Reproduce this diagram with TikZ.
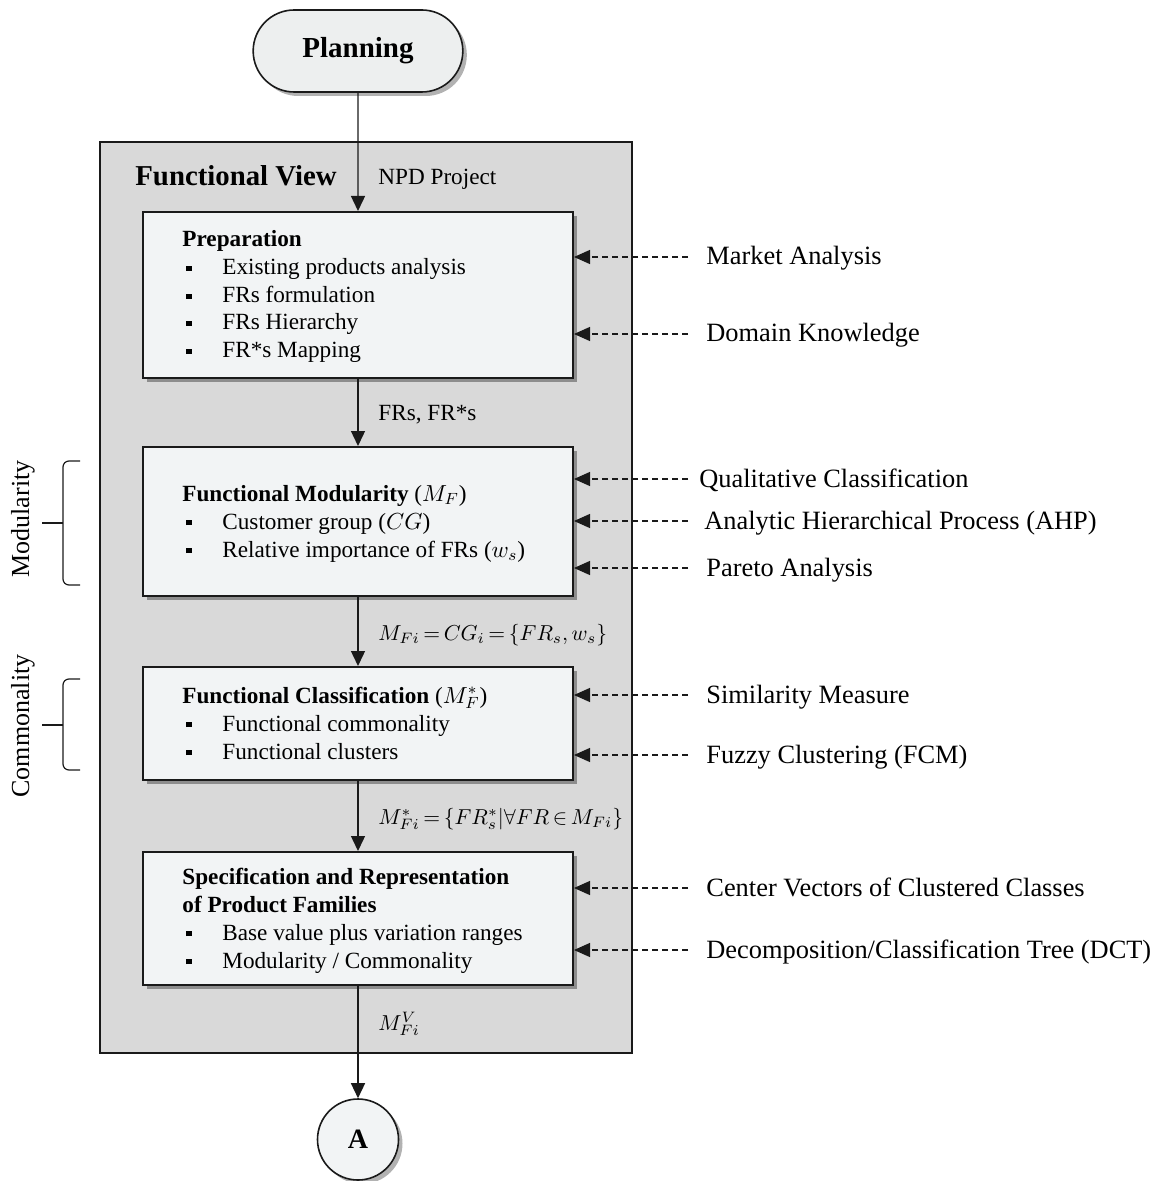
\RequirePackage{fix-cm}
\documentclass[tikz,border=0pt]{standalone}
\usepackage{fontspec}
\setmainfont{Liberation Serif}
\usetikzlibrary{arrows.meta,shapes.misc,shadows}

\definecolor{outerfill}{HTML}{D9D9D9}
\definecolor{boxfill}{HTML}{F2F4F5}
\definecolor{pillfill}{HTML}{EDEFEF}
\definecolor{linecol}{HTML}{1A1A1A}

\newcommand{\blt}{\makebox[18pt][l]{\rule[2pt]{2.6pt}{2.6pt}}}
\newcommand{\tightmath}{\thickmuskip=3mu plus 2mu\medmuskip=2mu plus 1mu}

\tikzset{
  outerbox/.style={draw=linecol, line width=0.8pt, fill=outerfill, minimum width=266pt, minimum height=455.5pt, inner sep=0pt},
  stagebox/.style={draw=linecol, line width=1pt, fill=boxfill, minimum width=215pt, inner sep=0pt,
    drop shadow={shadow xshift=2.2pt, shadow yshift=-2.2pt, fill=black, opacity=0.35}},
  pill/.style={rounded rectangle, draw=linecol, line width=0.8pt, fill=pillfill, minimum width=111.5pt, minimum height=41pt,
    font=\fontsize{14.5}{17}\selectfont\bfseries,
    drop shadow={shadow xshift=2pt, shadow yshift=-2pt, fill=black, opacity=0.3}},
  endcircle/.style={circle, draw=linecol, line width=0.8pt, fill=boxfill, minimum size=40.5pt, inner sep=0pt,
    font=\fontsize{14}{17}\selectfont\bfseries,
    drop shadow={shadow xshift=2pt, shadow yshift=-2pt, fill=black, opacity=0.3}},
  boxtxt/.style={anchor=base west, inner sep=0pt, font=\fontsize{11.6}{14}\selectfont},
  mathlab/.style={anchor=base west, inner sep=0pt, font=\fontsize{10.8}{13}\selectfont\tightmath},
  rlab/.style={anchor=west, inner sep=0pt, text height=11pt, text depth=3pt, font=\fontsize{13.2}{16}\selectfont},
  sidelab/.style={rotate=90, inner sep=0pt, font=\fontsize{13}{16}\selectfont},
  fvtitle/.style={anchor=base west, inner sep=0pt, font=\fontsize{14.4}{17}\selectfont\bfseries},
  mainarr/.style={draw=linecol, line width=0.7pt, -{Triangle[width=7pt,length=7.5pt]}},
  dasharr/.style={draw=linecol, line width=0.6pt, dash pattern=on 3pt off 2pt, -{Triangle[width=7pt,length=8pt]}},
  bracepath/.style={draw=linecol, line width=0.6pt, rounded corners=3pt},
}

\begin{document}
\begin{tikzpicture}[x=0.5pt,y=-0.5pt]
\useasboundingbox (0,0) rectangle (1156,1181);

% outer functional view box
\node[outerbox] (fv) at (366,597.5) {};
\node[fvtitle] (fvt) at (135,186) {Functional View};

% main nodes
\node[pill] (plan) at (358,51) {Planning};
\node[stagebox, minimum height=83pt] (prep) at (358,295) {};
\node[stagebox, minimum height=74.5pt] (mod) at (358,521.5) {};
\node[stagebox, minimum height=56.5pt] (cls) at (358,723.5) {};
\node[stagebox, minimum height=66.5pt] (spec) at (358,918.5) {};
\node[endcircle] (A) at (358,1139.5) {A};

% texts in boxes
\node[boxtxt] (prep0) at (182,247) {\textbf{Preparation}};
\node[boxtxt] (prep1) at (186,275) {\blt Existing products analysis};
\node[boxtxt] (prep2) at (186,303) {\blt FRs formulation};
\node[boxtxt] (prep3) at (186,330) {\blt FRs Hierarchy};
\node[boxtxt] (prep4) at (186,358) {\blt FR*s Mapping};

\node[boxtxt] (mod0) at (182,501) {\textbf{Functional Modularity} ($M_F$)};
\node[boxtxt] (mod1) at (186,529) {\blt Customer group ($CG$)};
\node[boxtxt] (mod2) at (186,557) {\blt Relative importance of FRs ($w_s$)};

\node[boxtxt] (cls0) at (182,703) {\textbf{Functional Classification} ($M_F^{*}$)};
\node[boxtxt] (cls1) at (186,731) {\blt Functional commonality};
\node[boxtxt] (cls2) at (186,759) {\blt Functional clusters};

\node[boxtxt] (spec0) at (182,884) {\textbf{Specification and Representation}};
\node[boxtxt] (spec1) at (182,912) {\textbf{of Product Families}};
\node[boxtxt] (spec2) at (186,940) {\blt Base value plus variation ranges};
\node[boxtxt] (spec3) at (186,968) {\blt Modularity / Commonality};

% main arrows
\draw[mainarr] (plan) -- (prep);
\draw[mainarr] (prep) -- (mod);
\draw[mainarr] (mod) -- (cls);
\draw[mainarr] (cls) -- (spec);
\draw[mainarr] (spec) -- (A);

% arrow labels
\node[boxtxt] (lnpd) at (378,185) {NPD Project};
\node[boxtxt] (lfr) at (378,421) {FRs, FR*s};
\node[mathlab] (lmf) at (378,640) {$M_{Fi} = CG_i = \{FR_s, w_s\}$};
\node[mathlab] (lms) at (378,824) {$M^{*}_{Fi} = \{FR^{*}_{s}|\forall FR \in M_{Fi}\}$};
\node[mathlab] (lmv) at (378,1030) {$M^{V}_{Fi}$};

% right-side inputs
\node[rlab] (ma) at (706,257) {Market Analysis};
\node[rlab] (dk) at (706,334) {Domain Knowledge};
\node[rlab] (qc) at (699,479) {Qualitative Classification};
\node[rlab] (ahp) at (704,521) {Analytic Hierarchical Process (AHP)};
\node[rlab] (pa) at (706,568) {Pareto Analysis};
\node[rlab] (sm) at (706,695) {Similarity Measure};
\node[rlab] (fcm) at (706,755) {Fuzzy Clustering (FCM)};
\node[rlab] (cv) at (706,888) {Center Vectors of Clustered Classes};
\node[rlab] (dct) at (706,950) {Decomposition/Classification Tree (DCT)};

\coordinate (mas) at (688,257);
\coordinate (dks) at (688,334);
\coordinate (qcs) at (688,479);
\coordinate (ahps) at (688,521);
\coordinate (pas) at (688,568);
\coordinate (sms) at (688,695);
\coordinate (fcms) at (688,755);
\coordinate (cvs) at (688,888);
\coordinate (dcts) at (688,950);

\draw[dasharr] (mas) -- (mas -| prep.east);
\draw[dasharr] (dks) -- (dks -| prep.east);
\draw[dasharr] (qcs) -- (qcs -| mod.east);
\draw[dasharr] (ahps) -- (ahps -| mod.east);
\draw[dasharr] (pas) -- (pas -| mod.east);
\draw[dasharr] (sms) -- (sms -| cls.east);
\draw[dasharr] (fcms) -- (fcms -| cls.east);
\draw[dasharr] (cvs) -- (cvs -| spec.east);
\draw[dasharr] (dcts) -- (dcts -| spec.east);

% left braces
\draw[bracepath] (80,461) -- (63,461) -- (63,585) -- (80,585);
\draw[bracepath] (63,523) -- (42,523);
\node[sidelab] (modl) at (23,519) {Modularity};

\draw[bracepath] (80,679) -- (63,679) -- (63,770) -- (80,770);
\draw[bracepath] (63,725) -- (42,725);
\node[sidelab] (coml) at (23,726) {Commonality};
\end{tikzpicture}
\end{document}
